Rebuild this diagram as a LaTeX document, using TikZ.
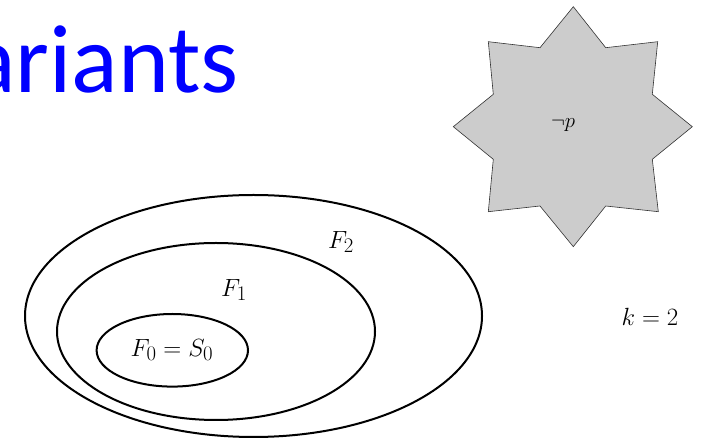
\documentclass[tikz,border=0pt]{standalone}
\usepackage{fontspec}
\newfontfamily\titlefont{Carlito}
\begin{document}
\begin{tikzpicture}[x=1pt,y=1pt,
  setline/.style={line width=2pt, black},
  mlabel/.style={inner sep=0pt, font=\fontsize{29}{34}\selectfont},
  titletext/.style={inner sep=0pt, anchor=base east, text=blue, font=\titlefont\fontsize{97}{110}\selectfont},
  starshape/.style={fill=black!20, draw=black!80, line width=0.6pt, line join=miter}]
\useasboundingbox (0,0) rectangle (708,438);
% title
\node[titletext] (title) at (239,345) {ariants};
% star
\draw[starshape] (573.3,431.3) -- (605.7,390.3) -- (657.7,396.3) -- (652.3,343.7)
  -- (692.3,311.3) -- (652.3,278.7) -- (658.3,226.3) -- (605.7,232)
  -- (573.3,191.3) -- (540,232) -- (488.3,226.3) -- (493.3,278.7)
  -- (453.3,311.3) -- (493.3,343.7) -- (488.3,396.3) -- (540,390.3) -- cycle;
\node[inner sep=0pt, anchor=base, font=\fontsize{20}{24}\selectfont] (notp) at (563,310) {$\neg p$};
% ellipses
\draw[setline] (253.5,122) ellipse [x radius=228.5, y radius=121];
\draw[setline] (216,106.5) ellipse [x radius=159, y radius=88.5];
\draw[setline] (172.3,87.7) ellipse [x radius=75.7, y radius=36.3];
% labels
\node[mlabel] (f2) at (341,196) {$F_2$};
\node[mlabel] (f1) at (234,148) {$F_1$};
\node[mlabel] (f0) at (172,88) {$F_0 = S_0$};
\node[mlabel] (k) at (650,121) {$k = 2$};
\end{tikzpicture}
\end{document}
